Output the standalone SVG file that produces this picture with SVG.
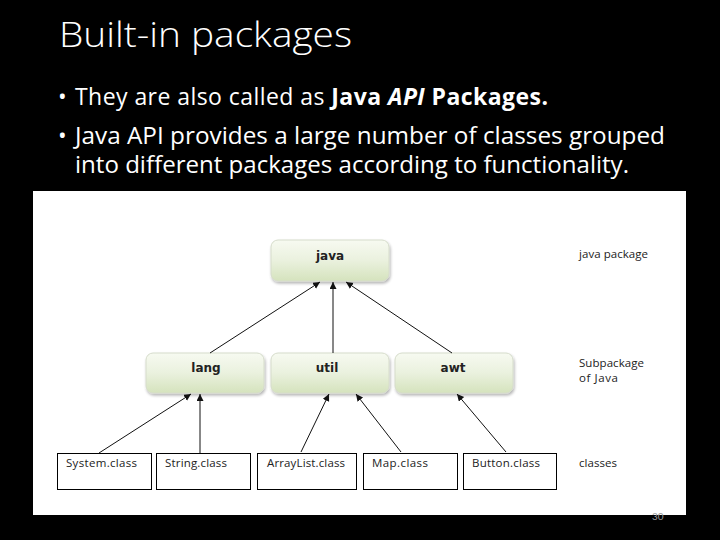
<svg xmlns="http://www.w3.org/2000/svg" width="720" height="540" viewBox="0 0 720 540">
<style>
.title{font-family:"Open Sans",Lato,"DejaVu Sans",sans-serif;font-weight:300;font-size:34px;fill:#fff}
.bul{font-family:"Open Sans",Lato,"DejaVu Sans",sans-serif;font-size:23px;fill:#fff}
.pkg{fill:url(#g);stroke:#d6dccb;stroke-width:1;filter:url(#sh)}
.pl{font-family:"DejaVu Sans",Verdana,sans-serif;font-weight:bold;font-size:12px;fill:#222;text-anchor:middle}
.cls{fill:#fff;stroke:#000;stroke-width:1}
.cl{font-family:"Open Sans",Lato,sans-serif;font-size:11.5px;fill:#222}
.side{font-family:"Open Sans",Lato,sans-serif;font-size:11.5px;fill:#222}
.con line{stroke:#111;stroke-width:1;marker-end:url(#ah)}
</style>
<defs>
<linearGradient id="g" x1="0" y1="0" x2="0" y2="1">
<stop offset="0" stop-color="#f7faf1"/>
<stop offset="0.5" stop-color="#eaf1de"/>
<stop offset="1" stop-color="#d5e3bd"/>
</linearGradient>
<filter id="sh" x="-10%" y="-20%" width="125%" height="150%">
<feGaussianBlur in="SourceAlpha" stdDeviation="1.5"/>
<feOffset dx="1" dy="2" result="b"/>
<feComponentTransfer><feFuncA type="linear" slope="0.3"/></feComponentTransfer>
<feMerge><feMergeNode/><feMergeNode in="SourceGraphic"/></feMerge>
</filter>
<marker id="ah" markerWidth="8" markerHeight="8" refX="7" refY="3.5" orient="auto" markerUnits="userSpaceOnUse">
<path d="M0,0 L7,3.5 L0,7 z" fill="#111"/>
</marker>
</defs>
<rect width="720" height="540" fill="#000"/>
<text class="title" x="59" y="47" textLength="293" lengthAdjust="spacingAndGlyphs">Built-in packages</text>
<g class="bul">
<text x="58" y="105">•</text>
<text x="75" y="105" textLength="473">They are also called as <tspan font-weight="bold">Java </tspan><tspan font-weight="bold" font-style="italic">API</tspan><tspan font-weight="bold"> Packages.</tspan></text>
<text x="58" y="144">•</text>
<text x="75" y="144" textLength="590" lengthAdjust="spacingAndGlyphs">Java API provides a large number of classes grouped</text>
<text x="75" y="173" textLength="554" lengthAdjust="spacingAndGlyphs">into different packages according to functionality.</text>
</g>
<rect x="33" y="191" width="653" height="324" fill="#fff"/>
<g id="java"><rect class="pkg" x="271" y="240" width="118" height="41" rx="7"/><text class="pl" x="330" y="260">java</text></g>
<g id="lang"><rect class="pkg" x="146" y="353" width="118" height="40" rx="7"/><text class="pl" x="206" y="372">lang</text></g>
<g id="util"><rect class="pkg" x="271" y="353" width="118" height="40" rx="7"/><text class="pl" x="327" y="372">util</text></g>
<g id="awt"><rect class="pkg" x="395" y="353" width="118" height="40" rx="7"/><text class="pl" x="453" y="372">awt</text></g>
<g id="system"><rect class="cls" x="57.5" y="453.5" width="94" height="36"/><text class="cl" x="66" y="467" textLength="71">System.class</text></g>
<g id="string"><rect class="cls" x="156.5" y="453.5" width="94" height="36"/><text class="cl" x="165" y="467" textLength="62">String.class</text></g>
<g id="arraylist"><rect class="cls" x="257.5" y="453.5" width="99" height="36"/><text class="cl" x="267" y="467" textLength="78">ArrayList.class</text></g>
<g id="map"><rect class="cls" x="363.5" y="453.5" width="94" height="36"/><text class="cl" x="372" y="467" textLength="56">Map.class</text></g>
<g id="button"><rect class="cls" x="463.5" y="453.5" width="93" height="36"/><text class="cl" x="472" y="467" textLength="68">Button.class</text></g>
<g id="labels">
<text class="side" x="579" y="258" textLength="69">java package</text>
<text class="side" x="579" y="367" textLength="65">Subpackage</text>
<text class="side" x="579" y="382" textLength="39">of Java</text>
<text class="side" x="579" y="467" textLength="38">classes</text>
</g>
<g class="con">
<line x1="210" y1="353" x2="320" y2="282"/>
<line x1="333" y1="353" x2="333" y2="282"/>
<line x1="452" y1="353" x2="346" y2="282"/>
<line x1="99" y1="453" x2="191" y2="394"/>
<line x1="200" y1="453" x2="200" y2="394"/>
<line x1="301" y1="452" x2="329" y2="394"/>
<line x1="401" y1="452" x2="356" y2="394"/>
<line x1="506" y1="452" x2="457" y2="394"/>
</g>
<text x="652" y="520" font-family="Lato,'Open Sans',sans-serif" font-size="10" fill="#999">30</text>
</svg>
